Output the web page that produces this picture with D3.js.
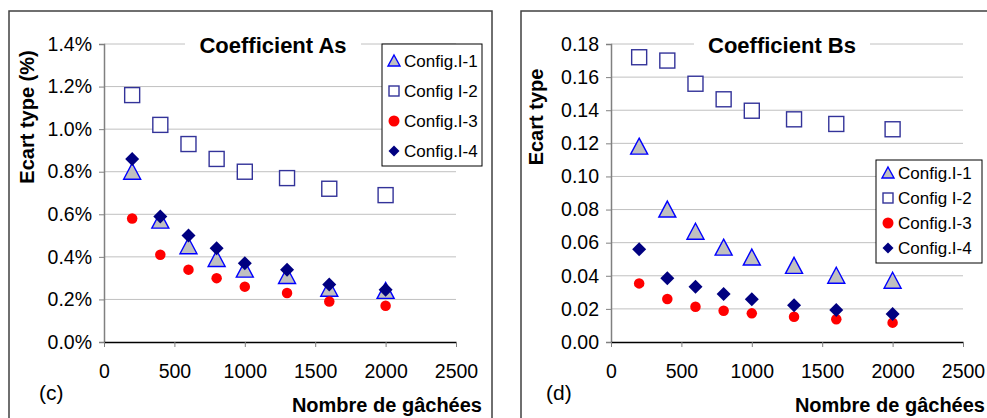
<!DOCTYPE html>
<html lang="fr">
<head>
<meta charset="UTF-8">
<title>Ecart type</title>
<script src="https://d3js.org/d3.v7.min.js"></script>
<style>
    body { margin: 0; background: #fff; }
    text { font-family: "Liberation Sans", Arial, sans-serif; }
</style>
</head>
<body>
<script type="text/javascript">
    // nombre de gachees (x)
    var xValues = [200, 400, 600, 800, 1000, 1300, 1600, 2000];
    var xTicks = [0, 500, 1000, 1500, 2000, 2500];

    var seriesNames = ["Config.I-1", "Config I-2", "Config.I-3", "Config.I-4"];

    // coefficient As, en %
    var asConfig1 = [0.80, 0.57, 0.45, 0.39, 0.34, 0.31, 0.25, 0.24];
    var asConfig2 = [1.16, 1.02, 0.93, 0.86, 0.80, 0.77, 0.72, 0.69];
    var asConfig3 = [0.58, 0.41, 0.34, 0.30, 0.26, 0.23, 0.19, 0.17];
    var asConfig4 = [0.86, 0.59, 0.50, 0.44, 0.37, 0.34, 0.27, 0.245];
    var asTicks = [0, 0.2, 0.4, 0.6, 0.8, 1.0, 1.2, 1.4];

    // coefficient Bs
    var bsConfig1 = [0.118, 0.080, 0.0666, 0.057, 0.051, 0.046, 0.040, 0.037];
    var bsConfig2 = [0.172, 0.170, 0.156, 0.1466, 0.1397, 0.1345, 0.1317, 0.1285];
    var bsConfig3 = [0.0354, 0.026, 0.0213, 0.0189, 0.0173, 0.0153, 0.0137, 0.0117];
    var bsConfig4 = [0.056, 0.0385, 0.0334, 0.029, 0.0258, 0.0222, 0.0193, 0.0169];
    var bsTicks = [0, 0.02, 0.04, 0.06, 0.08, 0.10, 0.12, 0.14, 0.16, 0.18];

    var kinds = ["triangle", "square", "circle", "diamond"];

    var svg = d3.select("body").append("svg")
        .attr("width", 987)
        .attr("height", 418);

    // draws one marker shape centred on 0,0
    var drawMarker = function (g, kind, s) {
        if (kind === "triangle") {
            g.append("path")
                .attr("d", "M0," + (-s / 2) + "L" + (s / 2) + "," + (s / 2 - 1) + "L" + (-s / 2) + "," + (s / 2 - 1) + "Z")
                .attr("fill", "#c0c0c0")
                .attr("stroke", "#0000ff")
                .attr("stroke-width", 1.4);
        } else if (kind === "square") {
            g.append("rect")
                .attr("x", -s / 2).attr("y", -s / 2)
                .attr("width", s).attr("height", s)
                .attr("fill", "#fff")
                .attr("stroke", "#333399")
                .attr("stroke-width", 1.4);
        } else if (kind === "circle") {
            g.append("circle")
                .attr("r", s / 2)
                .attr("fill", "#ff0000");
        } else {
            g.append("path")
                .attr("d", "M0," + (-s / 2) + "L" + (s / 2) + ",0L0," + (s / 2) + "L" + (-s / 2) + ",0Z")
                .attr("fill", "#000080");
        }
    };

    var plotSizes = {triangle: 17, square: 15, circle: 10.5, diamond: 14};
    var legendSizes = {triangle: 12, square: 10, circle: 11, diamond: 11};

    var drawPanel = function (opt) {
        var g = svg.append("g");

        g.append("rect")
            .attr("x", opt.boxX).attr("y", 11)
            .attr("width", 483).attr("height", 430)
            .attr("fill", "none")
            .attr("stroke", "#404040")
            .attr("stroke-width", 1.5);

        var x = d3.scaleLinear().domain([0, 2500]).range([opt.left, opt.left + 352]);
        var y = d3.scaleLinear().domain([0, opt.yMax]).range([342, 44]);

        // gridlines
        g.selectAll("line.grid")
            .data(opt.yTicks.slice(1))
            .enter()
            .append("line")
            .attr("class", "grid")
            .attr("x1", x(0)).attr("x2", x(2500))
            .attr("y1", function (d) { return y(d); })
            .attr("y2", function (d) { return y(d); })
            .attr("stroke", "#c0c0c0")
            .attr("stroke-width", 1);

        var yAxis = g.append("g")
            .attr("transform", "translate(" + x(0) + ",0)")
            .call(d3.axisLeft(y).tickValues(opt.yTicks).tickFormat(opt.fmt).tickSize(5).tickPadding(7));
        yAxis.select(".domain").attr("stroke", "#808080").attr("stroke-width", 1.5);
        yAxis.selectAll(".tick line").attr("stroke", "#808080");
        yAxis.selectAll("text").attr("font-size", 19.5).attr("fill", "#000");

        var xAxis = g.append("g")
            .attr("transform", "translate(0," + y(0) + ")")
            .call(d3.axisBottom(x).tickValues(xTicks).tickFormat(d3.format("d")).tickSize(5).tickSizeOuter(0));
        xAxis.select(".domain").attr("stroke", "#000").attr("stroke-width", 1.5);
        xAxis.selectAll(".tick line").attr("stroke", "#808080");
        xAxis.selectAll("text").attr("font-size", 19.5).attr("fill", "#000")
            .attr("y", 36).attr("dy", null);

        // title with white background hiding the top gridline
        var tx = opt.titleX;
        g.append("rect")
            .attr("x", tx - 88).attr("y", 34)
            .attr("width", 176).attr("height", 22)
            .attr("fill", "#fff");
        g.append("text")
            .attr("x", tx).attr("y", 53)
            .attr("text-anchor", "middle")
            .attr("font-size", 22).attr("font-weight", "bold")
            .text(opt.title);

        g.append("text")
            .attr("transform", "translate(" + opt.yTitleX + ",117) rotate(-90)")
            .attr("text-anchor", "middle")
            .attr("font-size", 20).attr("font-weight", "bold")
            .text(opt.yTitle);

        g.append("text")
            .attr("x", Math.min(x(2500) + 26, 985)).attr("y", 412)
            .attr("text-anchor", "end")
            .attr("font-size", 20).attr("font-weight", "bold")
            .text("Nombre de gâchées");

        g.append("text")
            .attr("x", opt.left - 65).attr("y", 400)
            .attr("font-size", 21)
            .text(opt.label);

        // points, series in order so that Config.I-4 is on top
        opt.series.forEach(function (vals, si) {
            var pts = g.append("g").selectAll("g")
                .data(vals)
                .enter()
                .append("g")
                .attr("transform", function (d, i) {
                    return "translate(" + x(xValues[i]) + "," + y(d) + ")";
                });
            pts.each(function () {
                drawMarker(d3.select(this), kinds[si], plotSizes[kinds[si]]);
            });
        });

        // legend
        var lg = g.append("g");
        lg.append("rect")
            .attr("x", opt.legX).attr("y", opt.legY)
            .attr("width", opt.legW).attr("height", opt.legH)
            .attr("fill", "#fff")
            .attr("stroke", "#000")
            .attr("stroke-width", 1);
        var items = lg.selectAll("g.item")
            .data(seriesNames)
            .enter()
            .append("g")
            .attr("class", "item")
            .attr("transform", function (d, i) {
                return "translate(" + (opt.legX + 12) + "," + (opt.legY + opt.legFirst + i * opt.legStep) + ")";
            });
        items.each(function (d, i) {
            drawMarker(d3.select(this), kinds[i], legendSizes[kinds[i]]);
        });
        items.append("text")
            .attr("x", 10)
            .attr("y", 6)
            .attr("font-size", 17)
            .text(function (d) { return d; });
    };

    drawPanel({
        boxX: 9, left: 104, yMax: 1.4, yTicks: asTicks,
        fmt: function (d) { return d3.format(".1f")(d) + "%"; },
        title: "Coefficient As", titleX: 273,
        yTitle: "Ecart type (%)", yTitleX: 34,
        label: "(c)",
        series: [asConfig1, asConfig2, asConfig3, asConfig4],
        legX: 382, legY: 44, legW: 100, legH: 122, legFirst: 17, legStep: 30
    });

    drawPanel({
        boxX: 521, left: 611, yMax: 0.18, yTicks: bsTicks,
        fmt: d3.format(".2f"),
        title: "Coefficient Bs", titleX: 782,
        yTitle: "Ecart type", yTitleX: 543,
        label: "(d)",
        series: [bsConfig1, bsConfig2, bsConfig3, bsConfig4],
        legX: 876, legY: 160, legW: 106, legH: 103, legFirst: 13, legStep: 25
    });
</script>
</body>
</html>
